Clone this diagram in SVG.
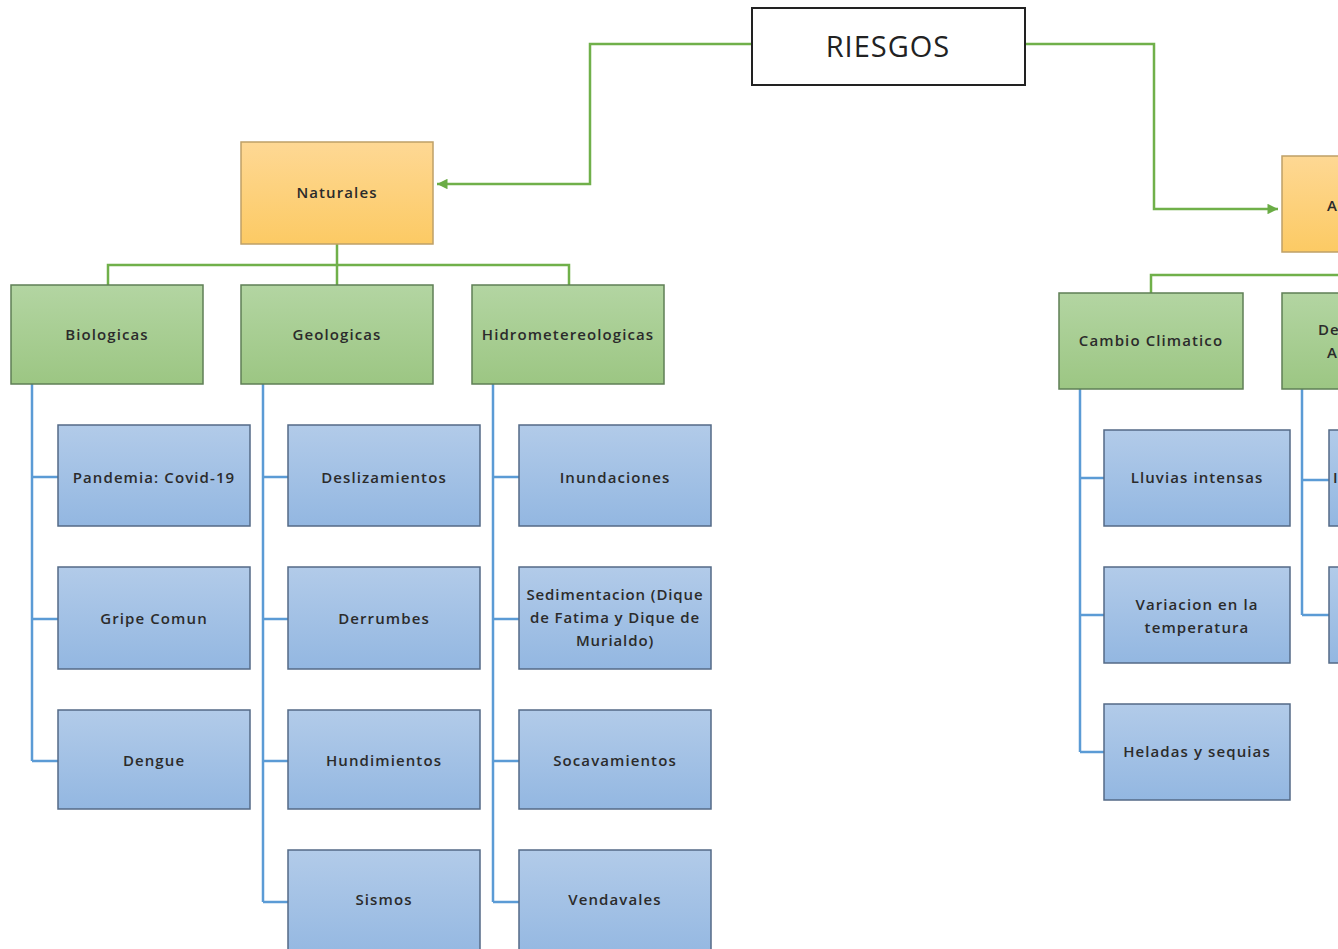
<svg xmlns="http://www.w3.org/2000/svg" width="1338" height="949" viewBox="0 0 1338 949">
<defs>
<linearGradient id="gO" x1="0" y1="0" x2="0" y2="1"><stop offset="0" stop-color="#fed894"/><stop offset="1" stop-color="#fcca64"/></linearGradient>
<linearGradient id="gG" x1="0" y1="0" x2="0" y2="1"><stop offset="0" stop-color="#b3d5a2"/><stop offset="1" stop-color="#9cc683"/></linearGradient>
<linearGradient id="gB" x1="0" y1="0" x2="0" y2="1"><stop offset="0" stop-color="#b2cbe9"/><stop offset="1" stop-color="#93b7e1"/></linearGradient>
<marker id="arr" viewBox="0 0 10 10" refX="10" refY="5" markerWidth="4.6" markerHeight="4.2" orient="auto" markerUnits="strokeWidth"><path d="M0,0 L10,5 L0,10 z" fill="#6aac45"/></marker>
<style>
.t{font-family:"Open Sans","DejaVu Sans",sans-serif;font-size:15px;font-weight:600;letter-spacing:1.1px;fill:#2b2b2b;text-anchor:middle;dominant-baseline:central}
.o{fill:url(#gO);stroke:#bfa067;stroke-width:1.5}
.g{fill:url(#gG);stroke:#5f7f56;stroke-width:1.5}
.b{fill:url(#gB);stroke:#546a86;stroke-width:1.5}
.cg{fill:none;stroke:#70b04a;stroke-width:2.5}
.cb{fill:none;stroke:#5b9bd5;stroke-width:2.5}
</style>
</defs>
<rect width="1338" height="949" fill="#fff"/>
<g id="connectors">
<path class="cg" d="M752,44 H590 V184 H437" marker-end="url(#arr)"/>
<path class="cg" d="M1025,44 H1154 V209 H1278" marker-end="url(#arr)"/>
<path class="cg" d="M337,244 V285 M108,285 V265 H569 V285"/>
<path class="cg" d="M1151,293 V275 H1338"/>
<path class="cb" d="M32,384 V761 M32,477 H58 M32,619 H58 M32,761 H58"/>
<path class="cb" d="M263,384 V902 M263,477 H288 M263,619 H288 M263,761 H288 M263,902 H288"/>
<path class="cb" d="M493,384 V902 M493,477 H519 M493,619 H519 M493,761 H519 M493,902 H519"/>
<path class="cb" d="M1080,389 V752 M1080,478 H1104 M1080,615 H1104 M1080,752 H1104"/>
<path class="cb" d="M1302,389 V615 M1302,480 H1329 M1302,615 H1329"/>
</g>
<g id="riesgos"><rect x="752" y="8" width="273" height="77" fill="#fff" stroke="#222" stroke-width="2"/><text class="t" x="888" y="45" style="font-size:29px;font-weight:400;letter-spacing:1px;fill:#222">RIESGOS</text></g>
<g id="naturales"><rect class="o" x="241" y="142" width="192" height="102"/><text class="t" x="337" y="192">Naturales</text></g>
<g id="antropicos"><rect class="o" x="1282" y="156" width="80" height="96"/><text class="t" x="1327" y="205" style="text-anchor:start">A</text></g>
<g id="biologicas"><rect class="g" x="11" y="285" width="192" height="99"/><text class="t" x="107" y="334">Biologicas</text></g>
<g id="geologicas"><rect class="g" x="241" y="285" width="192" height="99"/><text class="t" x="337" y="334">Geologicas</text></g>
<g id="hidro"><rect class="g" x="472" y="285" width="192" height="99"/><text class="t" x="568" y="334">Hidrometereologicas</text></g>
<g id="cambio"><rect class="g" x="1059" y="293" width="184" height="96"/><text class="t" x="1151" y="340">Cambio Climatico</text></g>
<g id="deA"><rect class="g" x="1282" y="293" width="80" height="96"/><text class="t" x="1318" y="329" style="text-anchor:start">De</text><text class="t" x="1327" y="352" style="text-anchor:start">A</text></g>
<g id="pandemia"><rect class="b" x="58" y="425" width="192" height="101"/><text class="t" x="154" y="477">Pandemia: Covid-19</text></g>
<g id="gripe"><rect class="b" x="58" y="567" width="192" height="102"/><text class="t" x="154" y="618">Gripe Comun</text></g>
<g id="dengue"><rect class="b" x="58" y="710" width="192" height="99"/><text class="t" x="154" y="760">Dengue</text></g>
<g id="deslizamientos"><rect class="b" x="288" y="425" width="192" height="101"/><text class="t" x="384" y="477">Deslizamientos</text></g>
<g id="derrumbes"><rect class="b" x="288" y="567" width="192" height="102"/><text class="t" x="384" y="618">Derrumbes</text></g>
<g id="hundimientos"><rect class="b" x="288" y="710" width="192" height="99"/><text class="t" x="384" y="760">Hundimientos</text></g>
<g id="sismos"><rect class="b" x="288" y="850" width="192" height="110"/><text class="t" x="384" y="899">Sismos</text></g>
<g id="inundaciones"><rect class="b" x="519" y="425" width="192" height="101"/><text class="t" x="615" y="477">Inundaciones</text></g>
<g id="sedimentacion"><rect class="b" x="519" y="567" width="192" height="102"/><text class="t" x="615" y="594" style="letter-spacing:0.9px">Sedimentacion (Dique</text><text class="t" x="615" y="617" style="letter-spacing:0.9px">de Fatima y Dique de</text><text class="t" x="615" y="640" style="letter-spacing:0.9px">Murialdo)</text></g>
<g id="socavamientos"><rect class="b" x="519" y="710" width="192" height="99"/><text class="t" x="615" y="760">Socavamientos</text></g>
<g id="vendavales"><rect class="b" x="519" y="850" width="192" height="110"/><text class="t" x="615" y="899">Vendavales</text></g>
<g id="lluvias"><rect class="b" x="1104" y="430" width="186" height="96"/><text class="t" x="1197" y="477">Lluvias intensas</text></g>
<g id="variacion"><rect class="b" x="1104" y="567" width="186" height="96"/><text class="t" x="1197" y="604">Variacion en la</text><text class="t" x="1197" y="627">temperatura</text></g>
<g id="heladas"><rect class="b" x="1104" y="704" width="186" height="96"/><text class="t" x="1197" y="751">Heladas y sequias</text></g>
<g id="right1"><rect class="b" x="1329" y="430" width="60" height="96"/><text class="t" x="1333" y="477" style="text-anchor:start">I</text></g>
<g id="right2"><rect class="b" x="1329" y="567" width="60" height="96"/></g>
</svg>
